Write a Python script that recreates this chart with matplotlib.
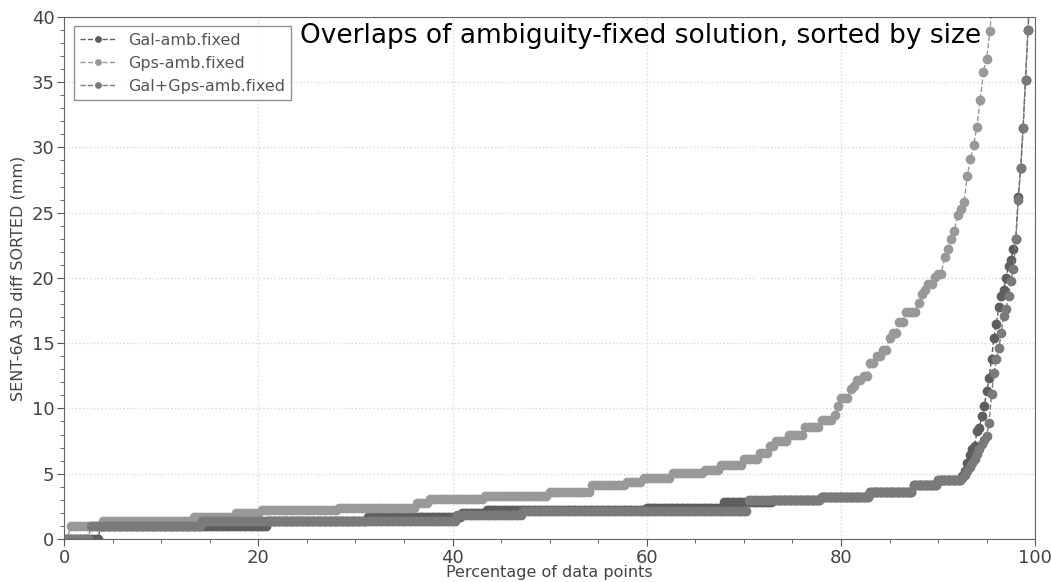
import numpy as np
import matplotlib.pyplot as plt

# sorted 3D differences (mm), stored as runs: level value and how many epochs sit on it
gal_levels = [0.0, 1.0, 1.38, 1.67, 2.0, 2.2, 2.35, 2.85, 3.0, 3.25, 3.6, 4.15, 4.5,
              4.8, 5.2, 5.8, 6.4, 6.9, 7.1,
              8.25, 8.5, 9.45, 10.2, 11.3, 12.3,
              13.8, 15.4, 16.5,
              17.8, 18.6, 19.1, 20.0,
              20.9, 21.4, 22.2, 23.0,
              26.2, 28.4, 31.5, 35.2, 39.0,
              42.0, 55.0]
gal_counts = [15, 69, 41, 39, 10, 66, 32, 20, 20, 20, 18, 10, 10,
              1, 1, 1, 1, 1, 1,
              1, 1, 1, 1, 1, 1,
              1, 1, 1,
              1, 1, 1, 1,
              1, 1, 1, 1,
              1, 1, 1, 1, 1,
              1, 1]

gps_levels = [0.0, 1.0, 1.4, 1.7, 2.0, 2.2, 2.4, 2.75, 3.05, 3.3, 3.6, 4.1, 4.4,
              4.65, 5.05, 5.3, 5.7, 6.1, 6.6, 7.1, 7.5, 8.0, 8.6, 9.1, 9.5, 10.2,
              10.8, 11.45, 11.7, 12.2, 12.5, 13.5, 14.0, 14.5, 15.4, 15.8, 16.6,
              17.35, 18.1, 18.8, 19.1, 19.5, 20.05, 20.3, 21.6, 22.2, 23.0, 23.6,
              24.8, 25.3, 25.8, 27.8, 29.1, 30.2, 31.6, 33.6, 35.8, 36.8, 38.9,
              42.0, 46.0, 51.0, 58.0, 66.0]
gps_counts = [2, 10, 28, 13, 8, 24, 24, 4, 17, 20, 13, 11, 5,
              9, 10, 5, 7, 5, 3, 2, 4, 5, 5, 4, 1, 1,
              3, 1, 1, 2, 2, 2, 2, 2, 1, 2, 2,
              4, 1, 1, 1, 2, 1, 2, 1, 1, 1, 1,
              1, 1, 1, 1, 1, 1, 1, 1, 1, 1, 1,
              3, 3, 3, 2, 2]

both_levels = [0.0, 1.0, 1.38, 1.85, 2.15, 3.0, 3.25, 3.6, 4.15, 4.5,
               4.7, 4.9, 5.2, 5.5, 5.8, 6.1, 6.5, 6.9, 7.3, 7.6,
               7.9, 8.9, 11.1,
               12.7, 13.75, 14.6,
               15.8, 17.1, 17.6, 18.6,
               19.8, 20.7, 23.0, 26.0,
               28.4, 31.5, 35.2, 39.0,
               43.0, 52.0]
both_counts = [11, 46, 105, 27, 93, 30, 20, 18, 10, 10,
               1, 1, 1, 1, 1, 1, 1, 1, 1, 1,
               1, 1, 1,
               1, 1, 1,
               1, 1, 1, 1,
               1, 1, 1, 1,
               1, 1, 1, 1,
               1, 1]

series = [
    ("Gal-amb.fixed", gal_levels, gal_counts, "#5e5e5e"),
    ("Gps-amb.fixed", gps_levels, gps_counts, "#999999"),
    ("Gal+Gps-amb.fixed", both_levels, both_counts, "#7a7a7a"),
]

fig = plt.figure(figsize=(10.51, 5.82), dpi=100)
ax = fig.add_axes([0.061, 0.074, 0.924, 0.897])

for label, levels, counts, color in series:
    vals = np.repeat(levels, counts)
    pct = 100.0 * np.arange(len(vals)) / len(vals)
    ax.plot(pct, vals, linestyle="--", marker="o", markersize=6, linewidth=1,
            color=color, label=label)

ax.set_xlim(0, 100)
ax.set_ylim(0, 40)
ax.set_xticks(np.arange(0, 101, 20))
ax.set_xticks(np.arange(0, 101, 5), minor=True)
ax.set_yticks(np.arange(0, 41, 5))
ax.set_yticks(np.arange(0, 41, 1), minor=True)
ax.tick_params(which="both", direction="out", colors="#555555", labelsize=13,
               labelcolor="#444444")
ax.tick_params(which="major", length=5, pad=2)
ax.tick_params(which="minor", length=3)
for sp in ax.spines.values():
    sp.set_color("#666666")
ax.grid(True, which="major", linestyle=":", color="#d8d8d8", linewidth=1)

ax.set_xlabel("Percentage of data points", fontsize=11.5, color="#444444", labelpad=-1)
ax.set_ylabel("SENT-6A 3D diff SORTED (mm)", fontsize=11.5, color="#444444", labelpad=4)

leg = ax.legend(loc="upper left", fontsize=11.5, fancybox=False, frameon=True,
                borderaxespad=0.6, handlelength=2.2, markerscale=0.65,
                labelcolor="#555555")
leg.get_frame().set_edgecolor("#777777")
leg.get_frame().set_linewidth(1)

ax.text(0.243, 0.963, "Overlaps of ambiguity-fixed solution, sorted by size",
        transform=ax.transAxes, fontsize=19, color="black", va="center", ha="left")

fig.savefig("out.png", dpi=100)
